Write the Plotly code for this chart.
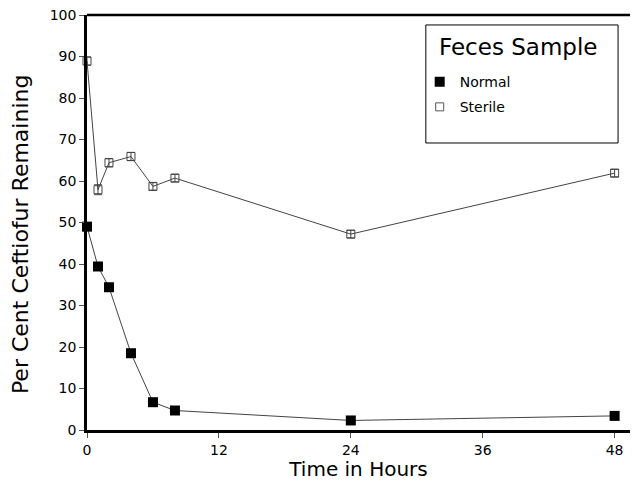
import plotly.graph_objects as go

# Sampling times (hours) and per cent of ceftiofur remaining
hours = [0, 1, 2, 4, 6, 8, 24, 48]
normal = [49.0, 39.4, 34.4, 18.5, 6.7, 4.7, 2.3, 3.4]
sterile = [88.9, 57.9, 64.4, 65.9, 58.7, 60.7, 47.2, 61.9]
sterile_err = [1.0, 1.2, 1.0, 1.0, 0.9, 0.9, 0.9, 0.9]

x_ticks = [0, 12, 24, 36, 48]
y_ticks = [0, 10, 20, 30, 40, 50, 60, 70, 80, 90, 100]

font_family = "DejaVu Sans, Verdana, sans-serif"

fig = go.Figure()

# data series (lines + markers), legend entries are drawn separately below
fig.add_trace(go.Scatter(
    x=hours, y=normal, name="Normal", mode="lines+markers", showlegend=False,
    line=dict(color="#444444", width=1),
    marker=dict(symbol="square", size=10, color="black",
                line=dict(color="black", width=0)),
    cliponaxis=False,
))

fig.add_trace(go.Scatter(
    x=hours, y=sterile, name="Sterile", mode="lines+markers", showlegend=False,
    line=dict(color="#444444", width=1),
    marker=dict(symbol="square-open", size=8, color="#444444",
                line=dict(width=1)),
    error_y=dict(type="data", array=sterile_err, color="#444444",
                 thickness=1, width=4),
    cliponaxis=False,
))

# marker-only legend keys
fig.add_trace(go.Scatter(
    x=[None], y=[None], name="Normal", mode="markers", legendgroup="n",
    marker=dict(symbol="square", size=10, color="black"),
))
fig.add_trace(go.Scatter(
    x=[None], y=[None], name="Sterile", mode="markers", legendgroup="s",
    marker=dict(symbol="square-open", size=8, color="#555555",
                line=dict(width=1)),
))

fig.update_layout(
    width=632, height=481,
    margin=dict(l=87, r=2, t=15, b=51),
    paper_bgcolor="white", plot_bgcolor="white",
    font=dict(family=font_family, color="black", size=14),
    showlegend=True,
    legend=dict(
        x=0.6127, y=0.877, xanchor="left", yanchor="top",
        borderwidth=0, bgcolor="rgba(0,0,0,0)",
        font=dict(size=14), itemwidth=30,
        traceorder="grouped", tracegroupgap=4,
    ),
)

fig.update_xaxes(
    range=[0, 49.4], tickvals=x_ticks, ticktext=[str(v) for v in x_ticks],
    showgrid=False, zeroline=False,
    showline=True, linecolor="black", linewidth=2.5,
    ticks="outside", ticklen=5, tickcolor="#555555", tickwidth=1,
    tickfont=dict(size=14),
    title=dict(text="Time in Hours", font=dict(size=20), standoff=4),
)

fig.update_yaxes(
    range=[0, 100], tickvals=y_ticks, ticktext=[str(v) for v in y_ticks],
    showgrid=False, zeroline=False,
    showline=True, linecolor="black", linewidth=2.5, mirror=False,
    ticks="outside", ticklen=5, tickcolor="#555555", tickwidth=1,
    tickfont=dict(size=14),
)

# y-axis title, placed slightly below the plot-area centre
fig.add_annotation(text="Per Cent Ceftiofur Remaining", xref="paper", yref="paper",
                   x=-0.1234, y=0.472, xanchor="center", yanchor="middle",
                   textangle=-90, showarrow=False, font=dict(size=22))

# heavy frame line along the top of the plot area
fig.add_shape(type="line", xref="paper", yref="paper", x0=0, x1=1, y0=1, y1=1,
              line=dict(color="black", width=2.5))

# legend box and heading
fig.add_shape(type="rect", xref="paper", yref="paper",
              x0=0.624, x1=0.978, y0=0.6916, y1=0.976,
              line=dict(color="black", width=1), fillcolor="white", layer="above")
fig.add_annotation(text="Feces Sample", xref="paper", yref="paper",
                   x=0.6446, y=0.923, xanchor="left", yanchor="middle",
                   showarrow=False, font=dict(size=23))

fig.write_html("out.html")
